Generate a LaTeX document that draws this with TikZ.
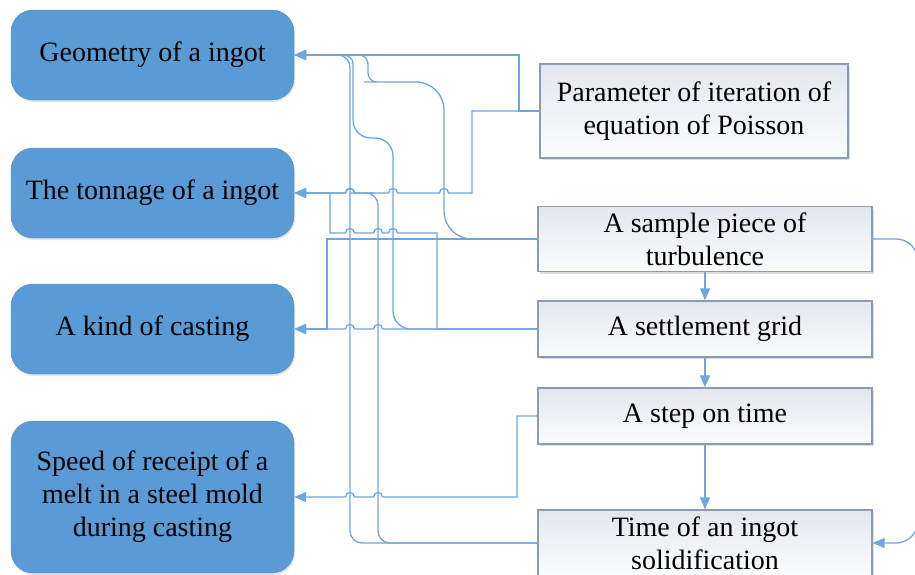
\documentclass[tikz,border=0pt]{standalone}
\usepackage{fontspec}
\setmainfont{Liberation Serif}
\usetikzlibrary{arrows.meta,shadows}
\definecolor{lblue}{HTML}{5B9BD5}
\definecolor{conncol}{HTML}{6FA6DB}
\definecolor{rborder}{HTML}{8A9BB4}
\definecolor{rtop}{HTML}{E3E7ED}
\definecolor{rbot}{HTML}{FBFCFD}
\begin{document}
\begin{tikzpicture}[x=1pt,y=-1pt,
 lbox/.style={rounded corners=22pt, fill=lblue, draw=lblue!92!black, line width=0.4pt,
   minimum width=283pt, align=center, inner sep=2pt, font=\fontsize{28}{33}\selectfont,
   drop shadow={opacity=0.22,shadow xshift=1pt,shadow yshift=-2pt}},
 rbox/.style={draw=rborder, line width=1.3pt, top color=rtop, bottom color=rbot,
   minimum width=334pt, align=center, inner sep=2pt, font=\fontsize{28}{33}\selectfont,
   drop shadow={opacity=0.25,shadow xshift=1.5pt,shadow yshift=-2pt}},
 conn/.style={draw=conncol, line width=1.3pt},
 arr/.style={conn, -{Triangle[length=12pt,width=10pt]}},
 hopl/.style args={#1/#2}{insert path={-- ({#1+4.5},#2) .. controls ({#1+4.5},{#2-6}) and ({#1-4.5},{#2-6}) .. ({#1-4.5},#2)}},
]
\useasboundingbox (0,0) rectangle (915,574);

% left boxes
\node[lbox, minimum height=90pt] (L1) at (152.5,55) {Geometry of a ingot};
\node[lbox, minimum height=90pt] (L2) at (152.5,193) {The tonnage of a ingot};
\node[lbox, minimum height=90pt] (L3) at (152.5,329) {A kind of casting};
\node[lbox, minimum height=152pt] (L4) at (152.5,497) {Speed of receipt of a\\melt in a steel mold\\during casting};

% right boxes
\node[rbox, minimum width=308pt, minimum height=94pt] (P) at (694,111) {Parameter of iteration of\\equation of Poisson};
\node[rbox, minimum height=65pt] (S) at (705,239) {A sample piece of\\turbulence};
\node[rbox, minimum height=56pt] (G) at (705,329) {A settlement grid};
\node[rbox, minimum height=56pt] (T) at (705,416) {A step on time};
\node[rbox, minimum height=66pt] (Ti) at (705,543) {Time of an ingot\\solidification};

% connectors to Geometry
\draw[arr] (P.west) -- (519,111) -- (519,55) -- (L1.east);
\draw[arr, rounded corners=28pt] (S.west) -- (444,239) -- (444,82) -- (392,82)
   [rounded corners=9pt] -- (368,82) -- (368,55) -- (L1.east);
\draw[arr, rounded corners=18pt] (G.west) -- (393,329) -- (393,138) -- (353,138) -- (353,92)
   [rounded corners=9pt] -- (353,55) -- (L1.east);
\draw[arr, rounded corners=12pt] (Ti.west) -- (350,543) -- (350,55) -- (L1.east);

% connectors to Tonnage
\draw[arr] (P.west) -- (472,111) -- (472,193) [hopl=444/193] [hopl=393/193] [hopl=350/193] -- (L2.east);
\draw[arr, rounded corners=12pt] (Ti.west) -- (378,543) -- (378,193) -- (362,193) [sharp corners] [hopl=350/193] -- (L2.east);
\draw[arr] (G.west) -- (437,329) -- (437,233) [hopl=393/233] [hopl=378/233] [hopl=350/233] -- (330,233) -- (330,193) -- (L2.east);

% connectors to Kind of casting
\draw[arr] (S.west) -- (327,239) -- (327,329) -- (L3.east);
\draw[arr] (G.west) [hopl=378/329] [hopl=350/329] -- (L3.east);

% connector to Speed
\draw[arr] (T.west) -- (517,416) -- (517,497) [hopl=378/497] [hopl=350/497] -- (L4.east);

% right column
\draw[arr] (S.south) -- (G.north);
\draw[arr] (G.south) -- (T.north);
\draw[arr] (T.south) -- (Ti.north);
\draw[arr, rounded corners=22pt] (S.east) -- (918,239) -- (918,543) -- (Ti.east);
\end{tikzpicture}
\end{document}
